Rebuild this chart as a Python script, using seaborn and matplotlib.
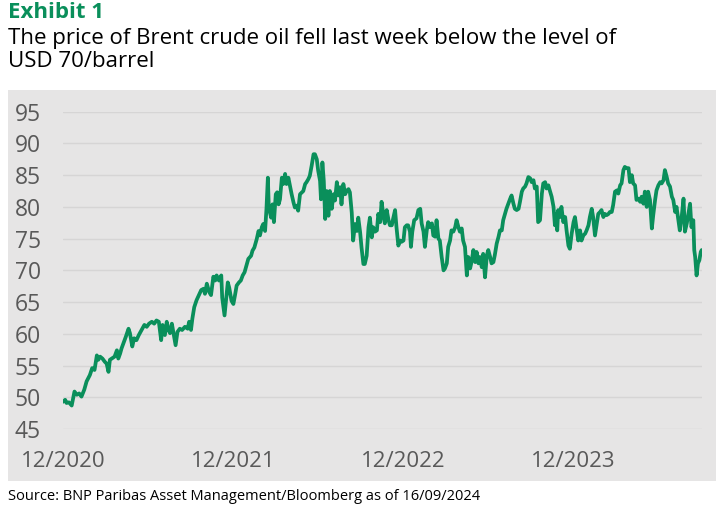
import pandas as pd
import numpy as np
import matplotlib
matplotlib.use('Agg')
import matplotlib.pyplot as plt
from matplotlib.patches import Rectangle
import seaborn as sns

# ── DATA ──────────────────────────────────────────────────────────────────────
START_DATE = '2020-12-16'

# days after START_DATE
days = [
    0, 4, 7, 12, 18, 24, 29, 34, 39, 45, 50, 57, 62, 67, 72, 75, 79, 84, 89, 93,
    97, 100, 104, 110, 115, 118, 122, 125, 129, 134, 140, 143, 148, 152, 157, 162, 168, 174, 179, 184,
    190, 195, 200, 205, 210, 213, 218, 222, 225, 229, 233, 236, 241, 245, 250, 255, 261, 267, 270, 274,
    277, 281, 286, 291, 296, 301, 304, 308, 313, 317, 322, 326,
    329, 334, 339, 341, 346, 349, 353, 356, 361, 365, 369, 372, 377, 381, 385, 389, 394, 397, 403, 406,
    410, 415, 419, 422, 426, 429, 433, 436, 439, 441, 446, 449, 452, 456, 459, 462, 465, 469, 472, 476,
    479, 483, 487, 490, 494, 497, 501, 504, 508, 512, 515, 519, 522, 526, 529, 533, 537, 540, 544, 547,
    551, 553, 556, 559, 562, 565, 569, 572, 576, 580, 583, 587, 590, 594, 597, 601, 605, 608, 612, 615,
    619, 622, 626, 630, 633, 637, 640, 644, 647, 651, 655, 658, 662, 665,
    669, 673, 676, 680, 683, 687, 690, 694, 698, 701, 705, 708, 712, 715, 719, 723, 726, 730, 733, 737,
    740, 744, 746, 749, 753, 758, 762, 766, 769, 773, 776, 780, 783, 787, 791, 794, 798, 801, 805, 808,
    812, 816, 819, 823, 826, 830, 833, 837, 841, 844, 848, 851, 855, 858, 862, 866, 869, 873, 876, 880,
    884, 887, 891, 894, 898, 901, 905, 909, 912, 916, 919, 923, 926, 930, 934, 937, 941, 944, 948, 951,
    955, 959, 962, 966, 969, 973, 977, 980, 984, 987, 991, 994, 998, 1002, 1005, 1009, 1012, 1016, 1019,
    1023, 1027, 1030, 1034, 1037, 1041, 1044, 1048, 1052, 1055, 1057, 1060, 1062, 1066, 1069, 1073, 1077, 1080, 1084, 1087,
    1091, 1095, 1098, 1102, 1105, 1109, 1112, 1116, 1120, 1123, 1127, 1130, 1134, 1137, 1141, 1145, 1148, 1152, 1155, 1159,
    1162, 1166, 1170, 1173, 1177, 1180, 1184, 1188, 1191, 1195, 1198, 1202, 1205, 1209, 1213, 1216, 1220, 1223, 1227, 1230,
    1234, 1238, 1241, 1245, 1248, 1252, 1255, 1259, 1263, 1266, 1270, 1273, 1277, 1281, 1284, 1288, 1291, 1295, 1298, 1302,
    1306, 1309, 1313, 1316, 1320, 1323, 1327, 1331, 1334, 1338, 1341, 1345, 1348, 1352, 1354, 1356, 1359, 1362, 1365, 1368,
    1370,
]

# Brent crude, USD/barrel
brent = [
    49.3, 49.6, 49.1, 49.2, 48.7, 50.9, 50.4, 50.6, 50.1, 51.2, 52.5, 53.5, 54.6, 54.3, 56.6, 55.9, 56.4, 56.1, 55.6, 55.3,
    54.0, 55.9, 56.1, 56.4, 57.4, 56.1, 56.9, 57.7, 58.5, 59.5, 60.8, 60.1, 58.0, 59.3, 59.0, 59.8, 60.6, 61.4, 61.1, 61.6,
    61.9, 61.6, 62.1, 61.9, 59.0, 61.4, 59.8, 61.9, 60.8, 60.1, 61.6, 60.3, 58.2, 60.3, 60.8, 60.6, 61.1, 60.8, 61.9, 60.6,
    62.4, 64.2, 65.3, 66.1, 66.9, 67.1, 66.3, 67.9, 66.6, 66.1, 69.0, 68.4,
    69.2, 68.4, 69.2, 65.7, 62.9, 65.2, 68.1, 67.3, 65.2, 64.7, 66.3, 67.6, 68.1, 68.4, 69.2, 69.7, 71.0, 71.8, 72.3, 73.1,
    73.6, 74.9, 76.2, 75.5, 76.8, 77.3, 76.2, 79.7, 84.6, 79.9, 78.3, 80.4, 77.6, 82.0, 82.3, 80.4, 81.2, 84.6, 83.6, 85.2,
    83.6, 84.6, 83.1, 82.0, 80.7, 79.9, 80.2, 79.4, 82.0, 82.3, 82.5, 83.6, 83.9, 84.4, 84.9, 86.5, 88.3, 88.3, 87.5, 85.7,
    84.1, 81.2, 87.0, 84.1, 78.1, 82.5, 78.6, 82.5, 79.7, 82.0, 81.0, 83.9, 81.8, 83.1, 80.4, 83.6, 82.0, 82.5, 82.8, 82.3,
    79.1, 74.7, 77.3, 76.2, 78.3, 76.0, 73.6, 71.0, 71.0, 72.3, 76.8, 78.3, 75.2, 76.8,
    76.1, 76.3, 78.9, 77.6, 80.8, 78.7, 77.4, 79.5, 77.9, 77.1, 77.1, 78.2, 79.5, 76.8, 73.9, 74.7, 74.5, 74.7, 76.8, 77.1,
    77.1, 76.1, 73.7, 76.1, 77.9, 78.2, 79.5, 79.7, 77.4, 76.1, 73.7, 76.3, 77.6, 76.8, 77.4, 75.5, 75.3, 77.9, 75.0, 74.7,
    72.1, 70.0, 70.3, 71.1, 73.7, 74.7, 76.3, 76.1, 76.8, 77.9, 76.8, 76.1, 76.6, 74.7, 73.7, 69.2, 72.1, 70.3, 71.3, 73.2,
    71.3, 72.9, 71.1, 72.1, 70.5, 72.6, 68.9, 72.4, 73.2, 72.1, 71.1, 71.3, 72.4, 74.2, 75.3, 76.3, 76.3, 77.9, 78.9, 79.7,
    80.5, 81.3, 81.8, 80.5, 79.7, 79.5, 79.7, 80.8, 82.4, 82.9, 83.2, 83.7, 84.7, 84.5, 83.9, 84.2, 82.9, 83.2, 77.6,
    77.9, 82.1, 83.7, 83.9, 82.9, 83.4, 82.6, 81.6, 80.0, 77.1, 78.9, 76.3, 79.5, 78.4, 80.0, 77.6, 78.4, 76.3, 73.9, 73.4,
    75.8, 77.6, 78.4, 76.3, 74.7, 76.3, 74.7, 75.5, 75.8, 76.3, 77.1, 78.4, 79.7, 78.4, 75.5, 77.4, 78.9, 79.2, 79.5, 78.4,
    78.9, 78.7, 78.9, 79.2, 79.2, 80.3, 82.4, 82.6, 82.1, 83.4, 83.7, 85.8, 86.3, 86.1, 86.1, 83.9, 85.0, 83.7, 83.4, 81.1,
    81.3, 80.8, 81.6, 80.5, 82.4, 80.0, 82.4, 81.1, 76.6, 78.7, 81.1, 82.6, 83.4, 83.9, 83.7, 84.2, 85.8, 84.7, 83.7, 83.2,
    81.6, 81.1, 79.2, 80.0, 77.9, 76.3, 78.4, 81.3, 76.1, 77.4, 78.7, 80.5, 76.8, 77.9, 73.2, 72.1, 69.2, 71.1, 71.6, 72.9,
    73.2,
]

y_ticks = [45, 50, 55, 60, 65, 70, 75, 80, 85, 90, 95]
x_tick_labels = ['12/2020', '12/2021', '12/2022', '12/2023']

df = pd.DataFrame({
    'date': pd.Timestamp(START_DATE) + pd.to_timedelta(days, unit='D'),
    'price': brent,
})
x_tick_dates = [pd.Timestamp(START_DATE) + pd.DateOffset(years=i) for i in range(len(x_tick_labels))]

# ── STYLE ─────────────────────────────────────────────────────────────────────
GREEN = '#0a8f5b'
PANEL = '#e6e5e5'
GRID = '#d6d5d5'
TICK_TXT = '#595959'

sns.set_style('white')
plt.rcParams['font.family'] = ['Open Sans', 'DejaVu Sans']

fig = plt.figure(figsize=(7.25, 5.14), dpi=100)
fig.patch.set_facecolor('white')

# grey panel behind the chart
fig.patches.append(Rectangle((8 / 725, 1 - 481 / 514), (716 - 8) / 725, (481 - 90) / 514,
                             transform=fig.transFigure, facecolor=PANEL, edgecolor='none', zorder=-5))

ax = fig.add_axes([63.3 / 725, 1 - 429 / 514, (701.7 - 63.3) / 725, (429 - 111.7) / 514])
ax.set_facecolor('none')
ax.set_zorder(2)

sns.lineplot(data=df, x='date', y='price', ax=ax, color=GREEN, linewidth=2.7, zorder=3)

ax.set_xlim(df['date'].iloc[0], df['date'].iloc[-1])
ax.set_ylim(45, 95)
ax.set_yticks(y_ticks)
ax.set_yticklabels([str(v) for v in y_ticks])
ax.set_xticks(x_tick_dates)
ax.set_xticklabels(x_tick_labels)
ax.set_xlabel('')
ax.set_ylabel('')

for v in y_ticks:
    ax.axhline(v, color=GRID, linewidth=1.0, zorder=1)

for s in ax.spines.values():
    s.set_visible(False)

ax.tick_params(axis='y', length=0, pad=16, labelsize=16.5, labelcolor=TICK_TXT)
ax.tick_params(axis='x', length=5, width=1, color=GRID, pad=11, labelsize=16, labelcolor=TICK_TXT)

# ── TITLES / SOURCE ───────────────────────────────────────────────────────────
fig.text(8 / 725, 1 - 2 / 514, 'Exhibit 1', color=GREEN, fontsize=16, fontweight='bold',
         ha='left', va='top')
fig.text(8 / 725, 1 - 28 / 514, 'The price of Brent crude oil fell last week below the level of\nUSD 70/barrel',
         color='black', fontsize=16, ha='left', va='top', linespacing=1.1)
fig.text(8 / 725, 1 - 497 / 514, 'Source: BNP Paribas Asset Management/Bloomberg as of 16/09/2024',
         color='black', fontsize=10.5, ha='left', va='center')

plt.savefig('out.png', dpi=100)
